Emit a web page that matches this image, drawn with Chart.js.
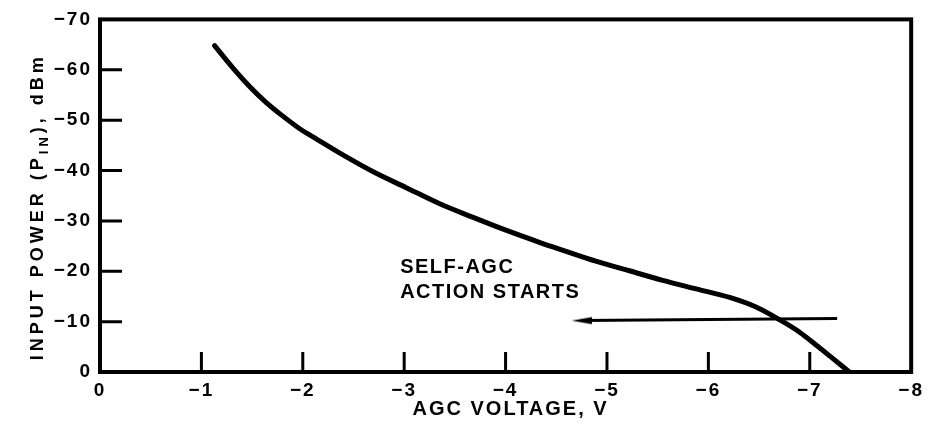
<!DOCTYPE html>
<html>
<head>
<meta charset="utf-8">
<script src="https://cdn.jsdelivr.net/npm/chart.js@4/dist/chart.umd.min.js"></script>
<style>
  html, body { margin: 0; padding: 0; background: #fff; }
  #wrap { width: 929px; height: 435px; }
</style>
</head>
<body>
<div id="wrap"><canvas id="myChart" width="929" height="435"></canvas></div>
<script>
// AGC voltage (V) vs input power (dBm)
const agcVolts = [-1.13, -1.31, -1.48, -1.64, -1.81, -1.97, -2.14, -2.37, -2.69, -3.02, -3.35, -3.68, -4.01, -4.34, -4.56, -4.89, -5.22, -5.55, -5.88, -6.21, -6.47, -6.70, -6.90, -7.09, -7.22, -7.39];
const inputPower = [-64.8, -60.4, -56.6, -53.5, -50.7, -48.3, -46.2, -43.4, -39.8, -36.6, -33.4, -30.7, -28.1, -25.7, -24.2, -22.0, -20.1, -18.2, -16.5, -14.8, -12.9, -10.4, -7.9, -4.9, -2.8, 0];

const arrowVolts = [-4.75, -7.27];
const arrowPower = [-10.2, -10.6];

const xTicks = [-1, -2, -3, -4, -5, -6, -7];
const yTicks = [-10, -20, -30, -40, -50, -60];
const xLabels = [0, -1, -2, -3, -4, -5, -6, -7, -8];
const yLabels = [0, -10, -20, -30, -40, -50, -60, -70];

const noteLines = ['SELF-AGC', 'ACTION STARTS'];
const noteAt = { x: -2.96, y: [-19.7, -14.6] };

const xTitle = 'AGC VOLTAGE, V';

const FONT = '"Liberation Sans", Arial, sans-serif';
const minus = v => (v < 0 ? '\u2212' + Math.abs(v) : String(v));

// narrow arrow head, pointing left
const head = document.createElement('canvas');
head.width = 20; head.height = 10;
(function () {
  const c = head.getContext('2d');
  c.fillStyle = '#000';
  c.beginPath();
  c.moveTo(0, 5);
  c.lineTo(20, 1.5);
  c.lineTo(20, 8.5);
  c.closePath();
  c.fill();
})();

const frame = {
  id: 'frame',
  beforeDraw(chart) {
    chart.ctx.letterSpacing = '2px';
  },
  afterDatasetsDraw(chart) {
    const { ctx, chartArea: a, scales: { x, y } } = chart;
    ctx.save();
    ctx.strokeStyle = '#000';
    ctx.lineWidth = 4;
    ctx.strokeRect(a.left, a.top, a.right - a.left, a.bottom - a.top);
    ctx.lineWidth = 3;
    ctx.beginPath();
    xTicks.forEach(v => {
      const px = x.getPixelForValue(v);
      ctx.moveTo(px, a.bottom);
      ctx.lineTo(px, a.bottom - 20);
    });
    yTicks.forEach(v => {
      const py = y.getPixelForValue(v);
      ctx.moveTo(a.left, py);
      ctx.lineTo(a.left + 22, py);
    });
    ctx.stroke();

    ctx.fillStyle = '#000';
    // annotation
    ctx.font = 'bold 20px ' + FONT;
    ctx.letterSpacing = '1.5px';
    ctx.textAlign = 'left';
    ctx.textBaseline = 'alphabetic';
    noteLines.forEach((t, i) => {
      ctx.fillText(t, x.getPixelForValue(noteAt.x), y.getPixelForValue(noteAt.y[i]));
    });

    // x title
    ctx.font = 'bold 20px ' + FONT;
    ctx.letterSpacing = '2px';
    ctx.textAlign = 'center';
    ctx.fillText(xTitle, (a.left + a.right) / 2 + 5, 415);

    // y title with subscript
    ctx.save();
    ctx.translate(43, (a.top + a.bottom) / 2 + 11);
    ctx.rotate(-Math.PI / 2);
    ctx.textAlign = 'left';
    ctx.letterSpacing = '4px';
    const parts = [
      ['INPUT POWER (P', 18, 0],
      ['IN', 13, 5],
      ['), dBm', 18, 0]
    ];
    let total = 0;
    parts.forEach(p => { ctx.font = 'bold ' + p[1] + 'px ' + FONT; total += ctx.measureText(p[0]).width; });
    let cx = -total / 2;
    parts.forEach(p => {
      ctx.font = 'bold ' + p[1] + 'px ' + FONT;
      ctx.fillText(p[0], cx, p[2]);
      cx += ctx.measureText(p[0]).width;
    });
    ctx.restore();
    ctx.restore();
  }
};

const ctx = document.getElementById('myChart').getContext('2d');
const myChart = new Chart(ctx, {
  type: 'scatter',
  data: {
    datasets: [{
      data: agcVolts.map((v, i) => ({ x: v, y: inputPower[i] })),
      showLine: true,
      borderColor: '#000',
      borderWidth: 5,
      pointRadius: 0,
      cubicInterpolationMode: 'monotone',
      borderCapStyle: 'round'
    }, {
      data: arrowVolts.map((v, i) => ({ x: v, y: arrowPower[i] })),
      showLine: true,
      borderColor: '#000',
      borderWidth: 3,
      pointStyle: [head, false],
      pointRadius: [10, 0]
    }]
  },
  options: {
    responsive: false,
    animation: false,
    layout: { padding: { top: 17, right: 17, left: 0, bottom: 0 } },
    plugins: { legend: { display: false }, tooltip: { enabled: false } },
    scales: {
      x: {
        type: 'linear',
        min: -8,
        max: 0,
        reverse: true,
        grid: { display: false, drawTicks: false },
        border: { display: false },
        afterFit: s => { s.height = 63; },
        afterBuildTicks: s => { s.ticks = xLabels.map(v => ({ value: v })); },
        ticks: {
          padding: 7,
          color: '#000',
          font: { family: FONT, size: 19, weight: 'bold' },
          callback: minus,
          maxRotation: 0
        }
      },
      y: {
        type: 'linear',
        min: -70,
        max: 0,
        reverse: true,
        grid: { display: false, drawTicks: false },
        border: { display: false },
        afterFit: s => { s.width = 100; },
        afterBuildTicks: s => { s.ticks = yLabels.map(v => ({ value: v })); },
        ticks: {
          padding: 8,
          color: '#000',
          font: { family: FONT, size: 19, weight: 'bold' },
          callback: minus
        }
      }
    }
  },
  plugins: [frame]
});
</script>
</body>
</html>
